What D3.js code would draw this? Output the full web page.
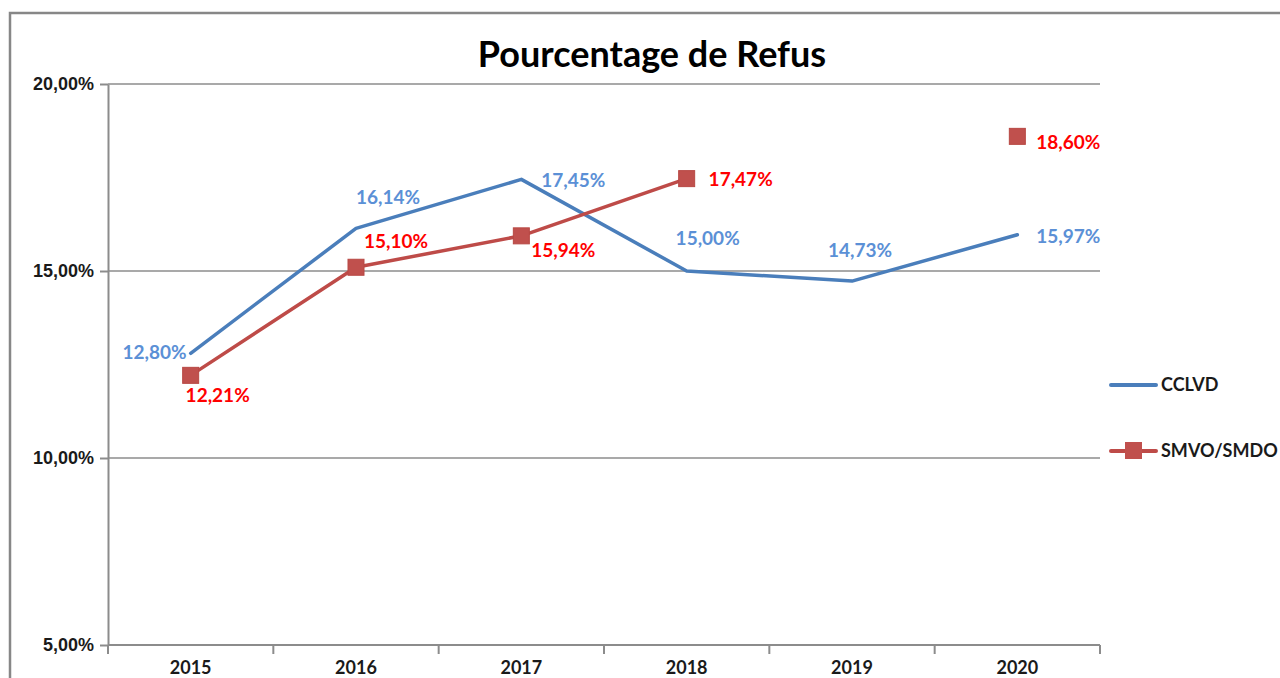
<!DOCTYPE html>
<meta charset="utf-8">
<style>
body { margin: 0; background: #fff; }
svg { display: block; font-family: Lato, "Open Sans", sans-serif; }
.grid line { stroke: #8c8c8c; stroke-width: 1.5px; }
.axis path, .axis line { stroke: #8c8c8c; stroke-width: 2px; }
.axis text { font-size: 18px; font-weight: bold; fill: #1a1a1a; }
</style>
<svg width="1280" height="678"></svg>
<script src="https://cdn.jsdelivr.net/npm/d3@7"></script>
<script>
var width = 1280, height = 678;

var years = ["2015", "2016", "2017", "2018", "2019", "2020"];
var cclvd = [12.80, 16.14, 17.45, 15.00, 14.73, 15.97];
var smvo = [12.21, 15.10, 15.94, 17.47, null, 18.60];
var yTicks = [5, 10, 15, 20];
var seriesNames = ["CCLVD", "SMVO/SMDO"];

// label offsets (dx, dy, anchor) per point, as placed in the reference
var cclvdLab = [[-4, 6, "end"], [32, -24, "middle"], [52, 8, "middle"], [21, -26, "middle"], [8, -24, "middle"], [51, 8, "middle"]];
var smvoLab = [[27, 27, "middle"], [40, -19, "middle"], [42, 21, "middle"], [54, 7, "middle"], [0, 0, "middle"], [51, 13, "middle"]];

var margin = {left: 108, right: 1100, top: 84, bottom: 645};

var svg = d3.select("svg");

// outer chart frame
svg.append("rect")
    .attr("x", 10).attr("y", 13)
    .attr("width", 1300).attr("height", 700)
    .attr("fill", "none")
    .attr("stroke", "#878787")
    .attr("stroke-width", 2.5);

var x = d3.scaleBand().domain(years).range([margin.left, margin.right]);
var y = d3.scaleLinear().domain([5, 20]).range([margin.bottom, margin.top]);

// horizontal gridlines
svg.append("g").attr("class", "grid")
  .selectAll("line")
  .data(yTicks.slice(1))
  .enter().append("line")
    .attr("x1", margin.left).attr("x2", margin.right)
    .attr("y1", function(d) { return y(d); })
    .attr("y2", function(d) { return y(d); });

var fmt = function(v) { return v.toFixed(2).replace(".", ",") + "%"; };

svg.append("g").attr("class", "axis")
    .attr("transform", "translate(" + margin.left + ",0)")
    .call(d3.axisLeft(y).tickValues(yTicks).tickFormat(fmt).tickSize(8).tickSizeOuter(0).tickPadding(6));

var xAxis = svg.append("g").attr("class", "axis")
    .attr("transform", "translate(0," + margin.bottom + ")");
xAxis.append("path").attr("d", "M" + margin.left + ",0H" + margin.right);
xAxis.selectAll(".tk")
  .data(years.concat(["end"]))
  .enter().append("line")
    .attr("x1", function(d, i) { return margin.left + i * x.bandwidth(); })
    .attr("x2", function(d, i) { return margin.left + i * x.bandwidth(); })
    .attr("y1", 0).attr("y2", 9);
xAxis.selectAll("text")
  .data(years)
  .enter().append("text")
    .attr("x", function(d) { return x(d) + x.bandwidth() / 2; })
    .attr("y", 29)
    .attr("text-anchor", "middle")
    .text(function(d) { return d; });

var cx = function(i) { return x(years[i]) + x.bandwidth() / 2; };

var line = d3.line()
    .defined(function(d) { return d != null; })
    .x(function(d, i) { return cx(i); })
    .y(function(d) { return y(d); });

svg.append("path")
    .datum(cclvd)
    .attr("d", line)
    .attr("fill", "none")
    .attr("stroke", "#4a7ebb")
    .attr("stroke-width", 3.5)
    .attr("stroke-linejoin", "round")
    .attr("stroke-linecap", "round");

svg.append("path")
    .datum(smvo)
    .attr("d", line)
    .attr("fill", "none")
    .attr("stroke", "#be4b48")
    .attr("stroke-width", 3.5)
    .attr("stroke-linejoin", "round");

svg.selectAll(".mk")
  .data(smvo.map(function(v, i) { return {v: v, i: i}; }).filter(function(d) { return d.v != null; }))
  .enter().append("rect")
    .attr("x", function(d) { return cx(d.i) - 8; })
    .attr("y", function(d) { return y(d.v) - 8; })
    .attr("width", 16).attr("height", 16)
    .attr("fill", "#c0504d")
    .attr("stroke", "#b84844")
    .attr("stroke-width", 1);

// data labels
svg.selectAll(".lb1")
  .data(cclvd)
  .enter().append("text")
    .attr("x", function(d, i) { return cx(i) + cclvdLab[i][0]; })
    .attr("y", function(d, i) { return y(d) + cclvdLab[i][1]; })
    .attr("text-anchor", function(d, i) { return cclvdLab[i][2]; })
    .attr("font-size", 19)
    .attr("font-weight", "bold")
    .attr("fill", "#5b90d6")
    .text(fmt);

svg.selectAll(".lb2")
  .data(smvo.map(function(v, i) { return {v: v, i: i}; }).filter(function(d) { return d.v != null; }))
  .enter().append("text")
    .attr("x", function(d) { return cx(d.i) + smvoLab[d.i][0]; })
    .attr("y", function(d) { return y(d.v) + smvoLab[d.i][1]; })
    .attr("text-anchor", function(d) { return smvoLab[d.i][2]; })
    .attr("font-size", 19)
    .attr("font-weight", "bold")
    .attr("fill", "#ff0000")
    .text(function(d) { return fmt(d.v); });

// title
svg.append("text")
    .attr("x", 652).attr("y", 67)
    .attr("text-anchor", "middle")
    .attr("font-size", 36)
    .attr("font-weight", "bold")
    .attr("fill", "#000")
    .text("Pourcentage de Refus");

// legend
var lg = svg.append("g").attr("transform", "translate(1111,0)");
lg.append("line").attr("x1", 0).attr("x2", 45).attr("y1", 385).attr("y2", 385)
    .attr("stroke", "#4a7ebb").attr("stroke-width", 4).attr("stroke-linecap", "round");
lg.append("line").attr("x1", 0).attr("x2", 45).attr("y1", 451).attr("y2", 451)
    .attr("stroke", "#be4b48").attr("stroke-width", 4).attr("stroke-linecap", "round");
lg.append("rect").attr("x", 14).attr("y", 442).attr("width", 17).attr("height", 17)
    .attr("fill", "#c0504d");
lg.selectAll(".lt")
  .data(seriesNames)
  .enter().append("text")
    .attr("x", 50)
    .attr("y", function(d, i) { return 391 + i * 66; })
    .attr("font-size", 18)
    .attr("font-weight", "bold")
    .attr("fill", "#1a1a1a")
    .text(function(d) { return d; });
</script>
